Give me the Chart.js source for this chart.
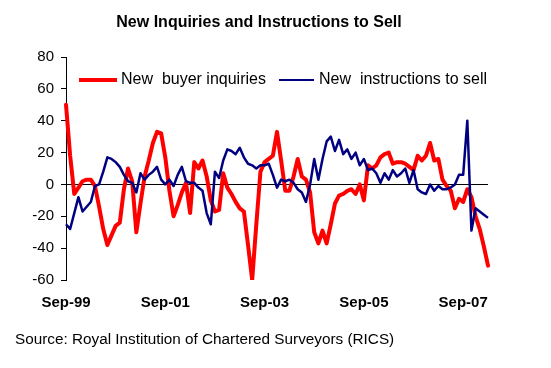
<!DOCTYPE html>
<html>
<head>
<meta charset="utf-8">
<script src="https://cdn.jsdelivr.net/npm/chart.js@4.4.0/dist/chart.umd.min.js"></script>
<style>
  html, body { margin: 0; padding: 0; background: #fff; }
  body { width: 551px; height: 368px; position: relative; overflow: hidden;
         font-family: 'Liberation Sans', Arial, sans-serif; }
  #chart { position: absolute; left: 0; top: 0; }
  .title { position: absolute; left: 0; top: 13px; width: 518px; text-align: center;
           font-weight: bold; font-size: 16px; color: #000; }
  .source { position: absolute; left: 15px; top: 330px; font-size: 15.3px; color: #000; }
  .leg { position: absolute; font-size: 16px; color: #000; white-space: pre; line-height: 16px; }
  .swatch { position: absolute; height: 0; }
</style>
</head>
<body>
<canvas id="chart" width="551" height="368"></canvas>
<div class="title">New Inquiries and Instructions to Sell</div>
<div class="swatch" style="left:79px; top:78px; width:38px; border-top:4px solid #ff0000;"></div>
<div class="leg" style="left:121px; top:71px;">New  buyer inquiries</div>
<div class="swatch" style="left:279px; top:79px; width:35px; border-top:2.5px solid #000080;"></div>
<div class="leg" style="left:319px; top:71px;">New  instructions to sell</div>
<div class="source">Source: Royal Institution of Chartered Surveyors (RICS)</div>

<script>
// monthly RICS balances, Sep-99 .. Mar-08
const buyerInquiries = [
    50, 18, -6, -2, 2, 3, 3, -1, -14, -28, -38, -32, -26, -24, -3, 10,
    2, -30, -12, 5, 15, 26, 33, 32, 17, -4, -20, -13, -5, 1, -18, 14,
    10, 15, 5, -10, -17, -16, 7, -2, -6, -11, -15, -17, -38, -60, -25, 8,
    14, 16, 18, 33, 15, -4, -4, 5, 16, 5, 3, -5, -30, -37, -29, -37,
    -25, -12, -7, -6, -4, -3, -6, 0, -10, 12, 10, 12, 17, 19, 20, 13,
    14, 14, 13, 11, 9, 18, 15, 18, 26, 15, 16, 3, -1, -4, -15, -9,
    -11, -3, -8, -20, -28, -39, -51
];
const instructionsToSell = [
    -25, -28, -18, -8, -17, -14, -11, -1, 0, 8, 17, 16, 14, 11, 6, 2,
    1, -5, 7, 3, 6, 8, 11, 3, 0, 3, -1, 6, 11, 2, 1, 1,
    -2, -4, -18, -25, 8, 4, 15, 22, 21, 19, 23, 17, 13, 12, 10, 12,
    12, 13, 6, -2, 3, 2, 3, 1, -3, -5, -11, 0, 16, 3, 16, 27,
    30, 21, 28, 19, 22, 16, 20, 12, 16, 9, 10, 7, 1, 7, 3, 9,
    5, 7, 10, 1, 9, -3, -5, -6, 0, -4, -1, -3, -3, -2, 0, 6,
    6, 40, -29, -15, -17, -19, -21
];
const tickLabels = ['Sep-99', 'Sep-01', 'Sep-03', 'Sep-05', 'Sep-07'];
const monthNames = ['Jan', 'Feb', 'Mar', 'Apr', 'May', 'Jun', 'Jul', 'Aug', 'Sep', 'Oct', 'Nov', 'Dec'];

// category labels Sep-99 onward, one per value
const months = buyerInquiries.map((_, i) => {
    const m = (8 + i) % 12;
    const y = (1999 + Math.floor((8 + i) / 12)) % 100;
    return monthNames[m] + '-' + String(y).padStart(2, '0');
});

new Chart(document.getElementById('chart'), {
    type: 'line',
    data: {
        labels: months,
        datasets: [
            {
                label: 'New buyer inquiries',
                data: buyerInquiries,
                borderColor: '#ff0000',
                borderWidth: 4,
                pointRadius: 0,
                tension: 0,
                borderJoinStyle: 'round',
                borderCapStyle: 'round',
                order: 2
            },
            {
                label: 'New instructions to sell',
                data: instructionsToSell,
                borderColor: '#000080',
                borderWidth: 2.5,
                pointRadius: 0,
                tension: 0,
                borderJoinStyle: 'round',
                order: 1
            }
        ]
    },
    options: {
        responsive: false,
        animation: false,
        layout: { padding: { top: 57, left: 0, right: 63, bottom: 58 } },
        plugins: {
            legend: { display: false },
            title: { display: false },
            tooltip: { enabled: false }
        },
        scales: {
            x: {
                offset: false,
                grid: { display: false, drawTicks: false },
                border: { display: false },
                afterFit: s => { s.height = 30; },
                ticks: {
                    autoSkip: false,
                    maxRotation: 0,
                    padding: 14,
                    color: '#000',
                    font: { family: "'Liberation Sans', Arial", size: 15, weight: 'bold' },
                    callback: (v, i) => (i % 24 === 0 ? tickLabels[i / 24] : '')
                }
            },
            y: {
                min: -60,
                max: 80,
                afterFit: s => { s.width = 66; },
                border: { display: true, color: '#000', width: 1 },
                grid: {
                    color: c => (c.tick && c.tick.value === 0 ? '#000' : 'rgba(0,0,0,0)'),
                    tickColor: '#000',
                    tickLength: 5,
                    drawOnChartArea: true
                },
                ticks: {
                    stepSize: 20,
                    padding: 7,
                    color: '#000',
                    font: { family: "'Liberation Sans', Arial", size: 15 }
                }
            }
        }
    }
});
</script>
</body>
</html>
